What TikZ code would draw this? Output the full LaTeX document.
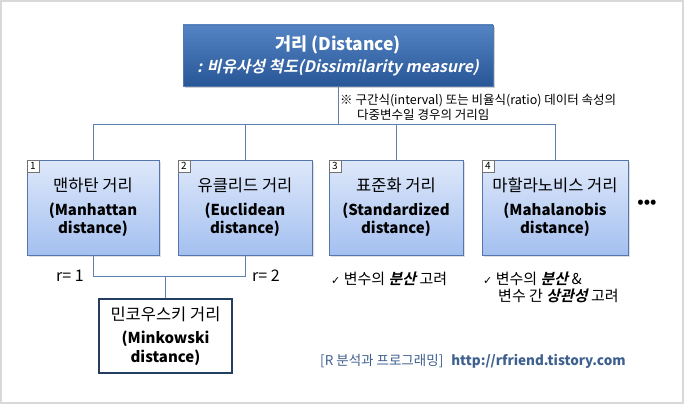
\documentclass[tikz,border=0pt]{standalone}
\usepackage{fontspec}
\setmainfont{Noto Sans CJK KR}
\newfontfamily\krbi{Noto Sans CJK KR Bold}[FakeSlant=0.22]
\newfontfamily\dvs{DejaVu Sans}
\usetikzlibrary{shadows}
\definecolor{frame}{RGB}{217,217,217}
\definecolor{topA}{RGB}{84,132,196}
\definecolor{topB}{RGB}{40,86,150}
\definecolor{boxA}{RGB}{222,232,250}
\definecolor{boxB}{RGB}{164,192,240}
\definecolor{boxedge}{RGB}{84,118,172}
\definecolor{conn}{RGB}{96,128,176}
\definecolor{navy}{RGB}{36,62,96}
\definecolor{foot}{RGB}{62,96,142}
\tikzset{
  topbox/.style={draw=topB!80!white, line width=0.8pt, top color=topA, bottom color=topB,
    minimum width=310pt, minimum height=61pt, inner sep=0pt, align=center, text=white,
    font=\fontsize{15.8}{20}\selectfont,
    drop shadow={shadow xshift=2pt, shadow yshift=-2pt, fill=black!35}},
  distbox/.style={draw=boxedge, line width=0.8pt, top color=boxA, bottom color=boxB,
    minimum height=95pt, inner sep=0pt, align=center, font=\fontsize{15}{18.5}\selectfont,
    drop shadow={shadow xshift=2pt, shadow yshift=-2pt, fill=black!25}},
  numbox/.style={draw=black!55, fill=white, line width=0.5pt, minimum width=12pt, minimum height=12pt,
    inner sep=0pt, font=\fontsize{10}{10}\selectfont},
  minkbox/.style={draw=navy, line width=1.6pt, fill=white, minimum width=133pt, minimum height=74pt,
    inner sep=0pt, align=center, font=\fontsize{15}{18.5}\selectfont},
  conn/.style={draw=conn, line width=0.9pt},
  plain/.style={inner sep=0pt, anchor=west},
}
\newcommand{\boxtext}[3]{{\fontsize{16.5}{18}\selectfont #1}\\[5pt]{\bfseries #2}\\{\bfseries #3}}
\newcommand{\bi}[1]{{\krbi #1}}
\begin{document}
\begin{tikzpicture}[x=1pt,y=-1pt]
\useasboundingbox (0,0) rectangle (684,404);
\draw[frame, line width=1.6pt] (0.8,0.8) rectangle (683.2,403.2);

\node[topbox] (top) at (338,55.5) {{\fontsize{17.5}{20}\selectfont\bfseries 거리 (Distance)}\\[2pt]{\krbi : 비유사성 척도(Dissimilarity measure)}};

\node[distbox, minimum width=132pt] (b1) at (93,207.5) {\boxtext{맨하탄 거리}{(Manhattan}{distance)}};
\node[distbox, minimum width=134pt] (b2) at (245,207.5) {\boxtext{유클리드 거리}{(Euclidean}{distance)}};
\node[distbox, minimum width=134pt] (b3) at (396,207.5) {\boxtext{표준화 거리}{(Standardized}{distance)}};
\node[distbox, minimum width=146pt] (b4) at (555,207.5) {\boxtext{마할라노비스 거리}{(Mahalanobis}{distance)}};

\node[numbox, anchor=north west] (n1) at (b1.north west) {1};
\node[numbox, anchor=north west] (n2) at (b2.north west) {2};
\node[numbox, anchor=north west] (n3) at (b3.north west) {3};
\node[numbox, anchor=north west] (n4) at (b4.north west) {4};

\node[font=\fontsize{16}{16}\selectfont\bfseries, inner sep=0pt] (dots) at (647,204) {•••};

\coordinate (j) at (338,124.5);
\draw[conn] (top.south) -- (j);
\draw[conn] (b1.north) -- (b1.north |- j) -- (b4.north |- j) -- (b4.north);
\draw[conn] (b2.north) -- (b2.north |- j);
\draw[conn] (b3.north) -- (b3.north |- j);

\node[plain, font=\fontsize{12.5}{13}\selectfont] (note1) at (340,101) {※ 구간식(interval) 또는 비율식(ratio) 데이터 속성의};
\node[plain, font=\fontsize{12.5}{13}\selectfont] (note2) at (357,114.5) {다중변수일 경우의 거리임};

\node[minkbox] (mk) at (165.5,336) {\boxtext{민코우스키 거리}{(Minkowski}{distance)}};
\coordinate (k) at (165.5,276);
\draw[conn] (b1.south) -- (b1.south |- k) -- (b2.south |- k) -- (b2.south);
\draw[conn] (k) -- (mk.north);

\node[font=\fontsize{16}{16}\selectfont, inner sep=0pt] (r1) at (70,276) {r= 1};
\node[font=\fontsize{16}{16}\selectfont, inner sep=0pt] (r2) at (266,276) {r= 2};

\node[plain, font=\fontsize{15}{15}\selectfont] (c1) at (331,279) {{\dvs\fontsize{11}{12}\selectfont ✓} 변수의 \bi{분산} 고려};
\node[plain, font=\fontsize{15}{15}\selectfont] (c2) at (483,279) {{\dvs\fontsize{11}{12}\selectfont ✓} 변수의 \bi{분산} \&};
\node[plain, font=\fontsize{15}{15}\selectfont] (c3) at (498,296) {변수 간 \bi{상관성} 고려};

\node[plain, font=\fontsize{13.5}{15}\selectfont, text=foot] (ft) at (320,361) {[R 분석과 프로그래밍]\hspace{8pt}\textbf{http://rfriend.tistory.com}};
\end{tikzpicture}
\end{document}
